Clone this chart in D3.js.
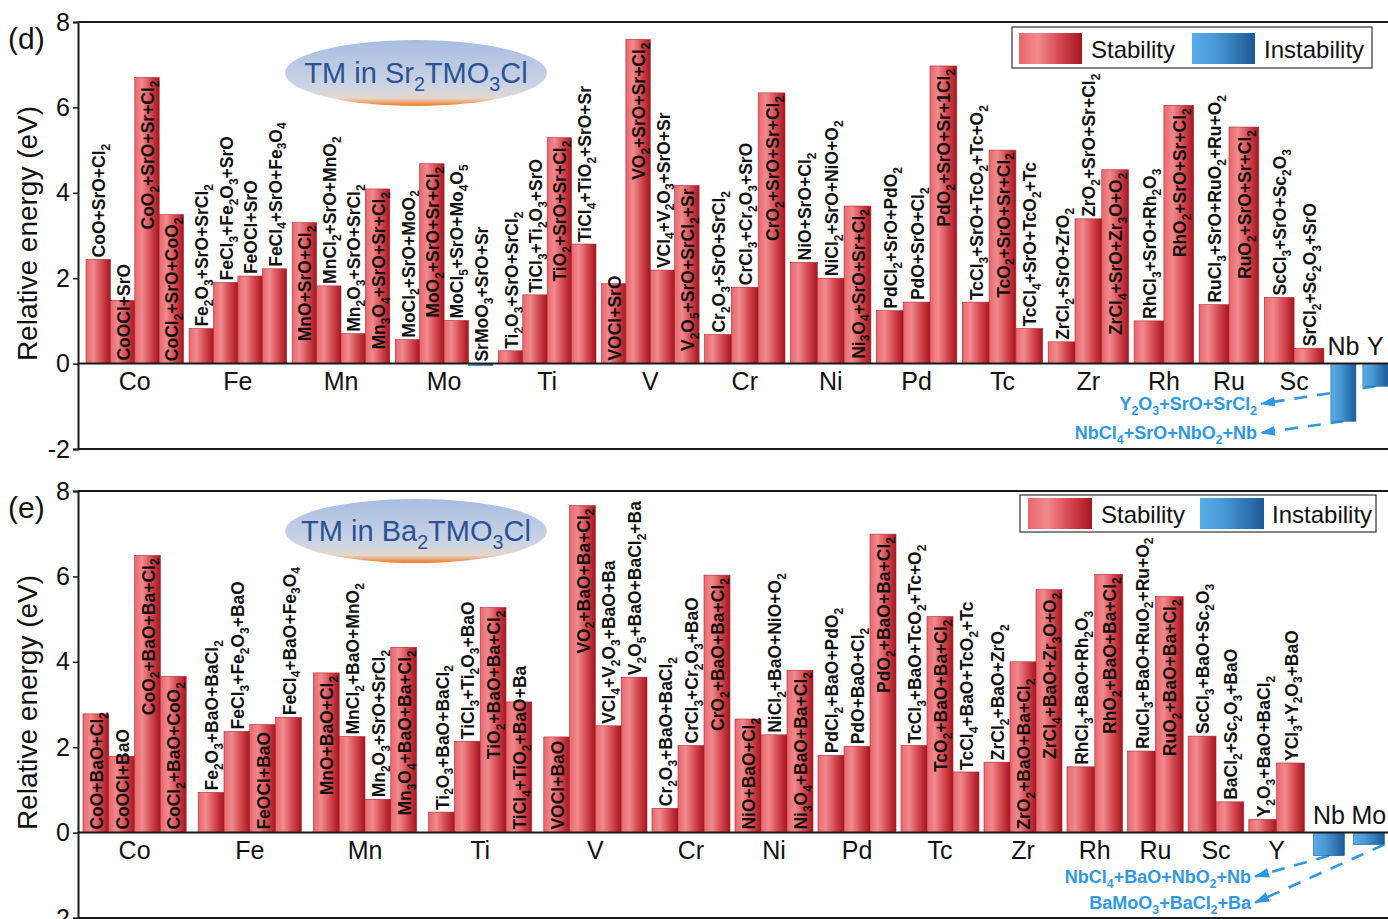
<!DOCTYPE html>
<html>
<head>
<meta charset="utf-8">
<script src="https://cdn.jsdelivr.net/npm/d3@7"></script>
<style>
  body { margin: 0; background: #fff; }
  text { font-family: "Liberation Sans", Arial, sans-serif; }
</style>
</head>
<body>
<div id="chart"></div>
<script>
// ---------- data: panel (d), Sr2TMO3Cl ----------
const groupsD = ["Co","Fe","Mn","Mo","Ti","V","Cr","Ni","Pd","Tc","Zr","Rh","Ru","Sc","Nb","Y"]
const productsD = [
  ["CoO+SrO+Cl2","CoOCl+SrO","CoO2+SrO+Sr+Cl2","CoCl2+SrO+CoO2"],
  ["Fe2O3+SrO+SrCl2","FeCl3+Fe2O3+SrO","FeOCl+SrO","FeCl4+SrO+Fe3O4"],
  ["MnO+SrO+Cl2","MnCl2+SrO+MnO2","Mn2O3+SrO+SrCl2","Mn3O4+SrO+Sr+Cl2"],
  ["MoCl2+SrO+MoO2","MoO2+SrO+Sr+Cl2","MoCl5+SrO+Mo4O5","SrMoO3+SrO+Sr"],
  ["Ti2O3+SrO+SrCl2","TiCl3+Ti2O3+SrO","TiO2+SrO+Sr+Cl2","TiCl4+TiO2+SrO+Sr"],
  ["VOCl+SrO","VO2+SrO+Sr+Cl2","VCl4+V2O3+SrO+Sr","V2O5+SrO+SrCl2+Sr"],
  ["Cr2O3+SrO+SrCl2","CrCl3+Cr2O3+SrO","CrO2+SrO+Sr+Cl2"],
  ["NiO+SrO+Cl2","NiCl2+SrO+NiO+O2","Ni3O4+SrO+Sr+Cl2"],
  ["PdCl2+SrO+PdO2","PdO+SrO+Cl2","PdO2+SrO+Sr+1Cl2"],
  ["TcCl3+SrO+TcO2+Tc+O2","TcO2+SrO+Sr+Cl2","TcCl4+SrO+TcO2+Tc"],
  ["ZrCl2+SrO+ZrO2","ZrO2+SrO+Sr+Cl2","ZrCl4+SrO+Zr3O+O2"],
  ["RhCl3+SrO+Rh2O3","RhO2+SrO+Sr+Cl2"],
  ["RuCl3+SrO+RuO2+Ru+O2","RuO2+SrO+Sr+Cl2"],
  ["ScCl3+SrO+Sc2O3","SrCl2+Sc2O3+SrO"],
  [""],
  [""]
]
const valuesD = [
  [2.44, 1.48, 6.70, 3.49],
  [0.82, 1.90, 2.05, 2.22],
  [3.30, 1.82, 0.70, 4.09],
  [0.56, 4.68, 1.01, -0.04],
  [0.30, 1.61, 5.29, 2.80],
  [1.87, 7.59, 2.19, 4.17],
  [0.68, 1.79, 6.34],
  [2.37, 2.00, 3.69],
  [1.24, 1.44, 6.97],
  [1.44, 5.00, 0.82],
  [0.51, 3.39, 4.54],
  [1.00, 6.05],
  [1.38, 5.54],
  [1.55, 0.36],
  [-1.35],
  [-0.53]
]
// label placement: a = above bar, t = inside from top, b = inside from bottom
const placeD = ["abtt","aaaa","taat","ataa","aata","btat","aat","aat","aat","ata","aat","at","at","aa","-","-"]
const annoD = [
  {group: "Y",  text: "Y2O3+SrO+SrCl2",    tip: -0.94},
  {group: "Nb", text: "NbCl4+SrO+NbO2+Nb", tip: -1.62}
]

// ---------- data: panel (e), Ba2TMO3Cl ----------
const groupsE = ["Co","Fe","Mn","Ti","V","Cr","Ni","Pd","Tc","Zr","Rh","Ru","Sc","Y","Nb","Mo"]
const productsE = [
  ["CoO+BaO+Cl2","CoOCl+BaO","CoO2+BaO+Ba+Cl2","CoCl2+BaO+CoO2"],
  ["Fe2O3+BaO+BaCl2","FeCl3+Fe2O3+BaO","FeOCl+BaO","FeCl4+BaO+Fe3O4"],
  ["MnO+BaO+Cl2","MnCl2+BaO+MnO2","Mn2O3+SrO+SrCl2","Mn3O4+BaO+Ba+Cl2"],
  ["Ti2O3+BaO+BaCl2","TiCl3+Ti2O3+BaO","TiO2+BaO+Ba+Cl2","TiCl4+TiO2+BaO+Ba"],
  ["VOCl+BaO","VO2+BaO+Ba+Cl2","VCl4+V2O3+BaO+Ba","V2O5+BaO+BaCl2+Ba"],
  ["Cr2O3+BaO+BaCl2","CrCl3+Cr2O3+BaO","CrO2+BaO+Ba+Cl2"],
  ["NiO+BaO+Cl2","NiCl2+BaO+NiO+O2","Ni3O4+BaO+Ba+Cl2"],
  ["PdCl2+BaO+PdO2","PdO+BaO+Cl2","PdO2+BaO+Ba+Cl2"],
  ["TcCl3+BaO+TcO2+Tc+O2","TcO2+BaO+Ba+Cl2","TcCl4+BaO+TcO2+Tc"],
  ["ZrCl2+BaO+ZrO2","ZrO2+BaO+Ba+Cl2","ZrCl4+BaO+Zr3O+O2"],
  ["RhCl3+BaO+Rh2O3","RhO2+BaO+Ba+Cl2"],
  ["RuCl3+BaO+RuO2+Ru+O2","RuO2+BaO+Ba+Cl2"],
  ["ScCl3+BaO+Sc2O3","BaCl2+Sc2O3+BaO"],
  ["Y2O3+BaO+BaCl2","YCl3+Y2O3+BaO"],
  [""],
  [""]
]
const valuesE = [
  [2.78, 1.79, 6.49, 3.66],
  [0.94, 2.37, 2.53, 2.70],
  [3.74, 2.25, 0.78, 4.34],
  [0.48, 2.14, 5.27, 3.06],
  [2.24, 7.66, 2.50, 3.64],
  [0.57, 2.04, 6.03],
  [2.66, 2.29, 3.80],
  [1.81, 2.02, 6.99],
  [2.04, 5.06, 1.42],
  [1.65, 4.00, 5.69],
  [1.54, 6.05],
  [1.91, 5.53],
  [2.26, 0.72],
  [0.31, 1.63],
  [-0.54],
  [-0.28]
]
const placeE = ["bbtb","aaba","taat","aatb","btaa","aat","bab","aat","ata","abt","at","at","aa","aa","-","-"]
const annoE = [
  {group: "Nb", text: "NbCl4+BaO+NbO2+Nb", tip: -1.03},
  {group: "Mo", text: "BaMoO3+BaCl2+Ba",   tip: -1.64}
]

const yTicks = [-2, 0, 2, 4, 6, 8]

// ---------- layout ----------
const panels = [
  {tag: "(d)", host: "TM in Sr2TMO3Cl", groups: groupsD, products: productsD, values: valuesD, place: placeD, anno: annoD,
   top: 22, bottom: 449, left: 78, right: 1398, start: 86,
   barW: {4: 24.4, 3: 26.8, 2: 29.8, 1: 25},
   gap: (a, b) => (a === 1 || b === 1) ? 7 : 5.5,
   legend: {x: 1012, y: 27, w: 360, h: 41, sx: 7, sy: 6, sw: 63, sh: 31, tx: 79, ty: 31, bx: 180, btx: 252},
   ellipse: {cx: 416, cy: 73, rx: 131, ry: 33},
   tipX: 1261, annoStart: {"Y": 0.5, "Nb": 0.5}},
  {tag: "(e)", host: "TM in Ba2TMO3Cl", groups: groupsE, products: productsE, values: valuesE, place: placeE, anno: annoE,
   top: 491, bottom: 918, left: 78, right: 1398, start: 83,
   barW: {4: 25.8, 3: 26, 2: 27.8, 1: 31},
   gap: (a, b) => (a === 4 && b === 4) ? 12 : (a === 1 || b === 1) ? 9 : 5,
   legend: {x: 1020, y: 495, w: 356, h: 37, sx: 8, sy: 3, sw: 64, sh: 31, tx: 81, ty: 28, bx: 180, btx: 252},
   ellipse: {cx: 416, cy: 531, rx: 131, ry: 32},
   tipX: 1255, annoStart: {"Nb": 0.5, "Mo": 1.0}}
]

const svg = d3.select("#chart").append("svg")
    .attr("width", 1388)
    .attr("height", 919)
    .style("background", "#fff")

// gradients
const defs = svg.append("defs")
function hGrad(id, stops) {
  const g = defs.append("linearGradient").attr("id", id)
    .attr("x1", 0).attr("y1", 0).attr("x2", 1).attr("y2", 0)
  stops.forEach(s => g.append("stop").attr("offset", s[0]).attr("stop-color", s[1]))
}
hGrad("gRed", [[0, "#e9676d"], [0.3, "#f08a8e"], [0.65, "#d4484f"], [1, "#a5161f"]])
hGrad("gBlue", [[0, "#5aaee8"], [0.35, "#4a9ad8"], [1, "#1d5a96"]])
const eg = defs.append("linearGradient").attr("id", "gEll")
  .attr("x1", 0).attr("y1", 0).attr("x2", 0).attr("y2", 1)
;[[0, "#a8bde1"], [0.68, "#cbd4e5"], [0.88, "#e4d8cd"], [1, "#f07626"]].forEach(s =>
  eg.append("stop").attr("offset", s[0]).attr("stop-color", s[1]))

const marker = defs.append("marker").attr("id", "arrow")
    .attr("markerUnits", "userSpaceOnUse")
    .attr("markerWidth", 16).attr("markerHeight", 12)
    .attr("refX", 14).attr("refY", 5)
    .attr("orient", "auto")
marker.append("path").attr("d", "M0,0 L15,5 L0,10 Z").attr("fill", "#2f98e2")

// chemistry text with subscripts
function chem(sel, str, size) {
  const parts = []
  let cur = "", curSub = false
  for (let i = 0; i < str.length; i++) {
    const c = str[i]
    const isSub = /\d/.test(c) && i > 0 && /[A-Za-z)]/.test(str[i - 1]) || (curSub && /\d/.test(c))
    if (isSub !== curSub && cur) { parts.push({t: cur, sub: curSub}); cur = "" }
    curSub = isSub
    cur += c
  }
  if (cur) parts.push({t: cur, sub: curSub})
  let shifted = false
  const sh = size * 0.28
  parts.forEach(p => {
    const ts = sel.append("tspan").text(p.t)
    if (p.sub) { ts.attr("font-size", size * 0.68).attr("dy", shifted ? 0 : sh); shifted = true }
    else if (shifted) { ts.attr("dy", -sh); shifted = false }
  })
}

panels.forEach(P => {
  const y = d3.scaleLinear().domain([-2, 8]).range([P.bottom, P.top])
  const y0 = y(0)

  // group positions
  let cx = P.start
  const groups = P.groups.map((name, i) => {
    const n = P.values[i].length
    if (i > 0) cx += P.gap(P.values[i - 1].length, n)
    const w = P.barW[n] * n
    const g = {name, i, n, x0: cx, x1: cx + w}
    cx += w
    g.band = d3.scaleBand().domain(d3.range(n)).range([g.x0, g.x1]).padding(0)
    return g
  })
  const byName = {}
  groups.forEach(g => byName[g.name] = g)

  const layer = svg.append("g")

  // ellipse title
  layer.append("ellipse")
    .attr("cx", P.ellipse.cx).attr("cy", P.ellipse.cy)
    .attr("rx", P.ellipse.rx).attr("ry", P.ellipse.ry)
    .attr("fill", "url(#gEll)")
  const et = layer.append("text")
    .attr("x", P.ellipse.cx).attr("y", P.ellipse.cy + 10)
    .attr("text-anchor", "middle")
    .attr("font-size", 29).attr("fill", "#2b5394")
  chem(et, P.host, 29)

  // annotation dashed lines (under the bars)
  P.anno.forEach(a => {
    const g = byName[a.group]
    const v = P.values[g.i][0]
    const x1 = g.x0 + P.annoStart[a.group] * (g.x1 - g.x0)
    layer.append("line")
      .attr("x1", x1).attr("y1", y(v))
      .attr("x2", P.tipX).attr("y2", y(a.tip))
      .attr("stroke", "#2f98e2").attr("stroke-width", 2.6)
      .attr("stroke-dasharray", "13,10")
      .attr("marker-end", "url(#arrow)")
    const tx = layer.append("text")
      .attr("x", P.tipX - 4).attr("y", y(a.tip) + 6)
      .attr("text-anchor", "end")
      .attr("font-size", 18).attr("font-weight", "bold")
      .attr("fill", "#2f98e2")
    chem(tx, a.text, 18)
  })

  // bars
  groups.forEach(g => {
    P.values[g.i].forEach((v, j) => {
      const bx = g.band(j), bw = g.band.bandwidth()
      layer.append("rect")
        .attr("x", bx).attr("width", bw)
        .attr("y", y(Math.max(0, v)))
        .attr("height", Math.abs(y(v) - y0))
        .attr("fill", v >= 0 ? "url(#gRed)" : "url(#gBlue)")
        .attr("stroke", v >= 0 ? "#b3232c" : "#1d5a96")
        .attr("stroke-width", 0.6)

      const lab = P.products[g.i][j]
      if (!lab) return
      const mode = P.place[g.i][j]
      const top = y(Math.max(0, v))
      let ly, anchor
      if (mode === "a") { ly = top - 2; anchor = "start" }
      else if (mode === "t") { ly = top + 3; anchor = "end" }
      else { ly = y0 - 3; anchor = "start" }
      const t = layer.append("text")
        .attr("transform", `translate(${bx + bw / 2 + 7},${ly}) rotate(-90)`)
        .attr("text-anchor", anchor)
        .attr("font-size", 17.5).attr("font-weight", "bold")
        .attr("fill", "#111")
      chem(t, lab, 17.5)
    })

    // category label
    const neg = d3.max(P.values[g.i]) < 0
    layer.append("text")
      .attr("x", (g.x0 + g.x1) / 2)
      .attr("y", neg ? y0 - 9 : y0 + 26)
      .attr("text-anchor", "middle")
      .attr("font-size", 25).attr("fill", "#111")
      .text(g.name)
  })

  // frame
  const frame = layer.append("g").attr("stroke", "#1a1a1a").attr("stroke-width", 2)
  frame.append("line").attr("x1", P.left).attr("x2", P.right).attr("y1", P.top).attr("y2", P.top)
  frame.append("line").attr("x1", P.left).attr("x2", P.right).attr("y1", P.bottom).attr("y2", P.bottom)
  frame.append("line").attr("x1", P.left).attr("x2", P.right).attr("y1", y0).attr("y2", y0)

  // y axis
  const ax = layer.append("g")
    .attr("transform", `translate(${P.left},0)`)
    .call(d3.axisLeft(y).tickValues(yTicks).tickSize(5).tickPadding(3).tickFormat(d3.format("d")))
  ax.select(".domain").attr("stroke", "#1a1a1a").attr("stroke-width", 2)
  ax.selectAll(".tick line").attr("stroke", "#1a1a1a").attr("stroke-width", 1.5)
  ax.selectAll(".tick text")
    .attr("font-size", 25).attr("fill", "#111")
    .attr("font-family", "Liberation Sans, Arial, sans-serif")
    .text(d => d < 0 ? "-" + Math.abs(d) : d)

  layer.append("text")
    .attr("transform", `translate(37,${(P.top + P.bottom) / 2 - 2}) rotate(-90)`)
    .attr("text-anchor", "middle")
    .attr("font-size", 28).attr("fill", "#111")
    .text("Relative energy (eV)")

  layer.append("text")
    .attr("x", 8).attr("y", P.top + 27)
    .attr("font-size", 30).attr("fill", "#111")
    .text(P.tag)

  // legend
  const L = P.legend
  const lg = layer.append("g").attr("transform", `translate(${L.x},${L.y})`)
  lg.append("rect").attr("width", L.w).attr("height", L.h)
    .attr("fill", "#fff").attr("stroke", "#333").attr("stroke-width", 1.2)
  lg.append("rect").attr("x", L.sx).attr("y", L.sy).attr("width", L.sw).attr("height", L.sh)
    .attr("fill", "url(#gRed)")
  lg.append("text").attr("x", L.tx).attr("y", L.ty).attr("font-size", 24).attr("fill", "#111").text("Stability")
  lg.append("rect").attr("x", L.bx).attr("y", L.sy).attr("width", L.sw).attr("height", L.sh)
    .attr("fill", "url(#gBlue)")
  lg.append("text").attr("x", L.btx).attr("y", L.ty).attr("font-size", 24).attr("fill", "#111").text("Instability")
})
</script>
</body>
</html>
